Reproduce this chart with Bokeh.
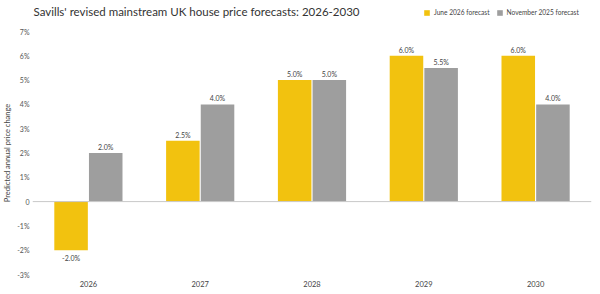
from bokeh.plotting import figure
from bokeh.layouts import column
from bokeh.models import (ColumnDataSource, FactorRange, FixedTicker, Span,
                          Legend, LegendItem, Label)
from bokeh.transform import dodge
from bokeh.core.properties import value
from bokeh.embed import file_html
from bokeh.resources import INLINE

# Forecast data (annual % change)
years = ["2026", "2027", "2028", "2029", "2030"]
june_2026 = [-2.0, 2.5, 5.0, 6.0, 6.0]
november_2025 = [2.0, 4.0, 5.0, 5.5, 4.0]

y_ticks = [-3, -2, -1, 0, 1, 2, 3, 4, 5, 6, 7]
y_tick_labels = ["-3%", "-2%", "-1%", "0", "1%", "2%", "3%", "4%", "5%", "6%", "7%"]

chart_title = "Savills' revised mainstream UK house price forecasts: 2026-2030"
series_names = ["June 2026 forecast", "November 2025 forecast"]

YELLOW = "#F2C20F"
GREY = "#9E9E9E"
FONT = "Lato"
W, HEADER_H, H = 600, 22, 294


def pct(v):
    return f"{v:.1f}%"


src = ColumnDataSource(dict(
    year=years,
    june=june_2026,
    nov=november_2025,
    june_lbl=[pct(v) for v in june_2026],
    nov_lbl=[pct(v) for v in november_2025],
    june_pos=[v if v >= 0 else float("nan") for v in june_2026],
    june_neg=[v if v < 0 else float("nan") for v in june_2026],
    nov_pos=[v if v >= 0 else float("nan") for v in november_2025],
    nov_neg=[v if v < 0 else float("nan") for v in november_2025],
))

# ---- header strip: title and key -------------------------------------------
head = figure(width=W, height=HEADER_H, x_range=(0, W), y_range=(0, HEADER_H),
              x_axis_type=None, y_axis_type=None, output_backend="svg",
              toolbar_location=None, min_border=0,
              min_border_left=0, min_border_right=0,
              min_border_top=0, min_border_bottom=0)
head.outline_line_color = None
head.grid.visible = False
head.add_layout(Label(x=33, y=11, x_units="canvas", y_units="canvas",
                      text=chart_title, text_align="left",
                      text_font=FONT, text_font_size="11.5px",
                      text_color="#333333", text_baseline="middle"))
key_src = ColumnDataSource(dict(x=[float("nan")], top=[float("nan")]))
key_june = head.vbar(x="x", top="top", width=1, source=key_src,
                     fill_color=YELLOW, line_color=None)
key_nov = head.vbar(x="x", top="top", width=1, source=key_src,
                    fill_color=GREY, line_color=None)
legend = Legend(
    items=[LegendItem(label=series_names[0], renderers=[key_june]),
           LegendItem(label=series_names[1], renderers=[key_nov])],
    orientation="horizontal",
    location=(391, 6),
    label_text_font=FONT, label_text_font_size="6.6px", label_text_color="#444444",
    glyph_width=7, glyph_height=7, label_standoff=4, spacing=6,
    padding=0, margin=0, border_line_color=None, background_fill_alpha=0,
    label_height=8, label_width=10,
)
head.add_layout(legend, "center")

# ---- main chart ---------------------------------------------------------------
p = figure(
    width=W, height=H - HEADER_H,
    x_range=FactorRange(*years, range_padding=0),
    y_range=(-3, 7),
    output_backend="svg", toolbar_location=None,
    min_border_left=31, min_border_right=9,
    min_border_top=9, min_border_bottom=20,
)
p.outline_line_color = None
p.xgrid.grid_line_color = None
p.ygrid.grid_line_color = None
p.background_fill_color = "white"
p.border_fill_color = "white"

bw = 0.30
p.vbar(x=dodge("year", -0.155, range=p.x_range), top="june", bottom=0,
       width=bw, source=src, fill_color=YELLOW, line_color=None)
p.vbar(x=dodge("year", 0.155, range=p.x_range), top="nov", bottom=0,
       width=bw, source=src, fill_color=GREY, line_color=None)

p.add_layout(Span(location=0, dimension="width", line_color="#C8C8C8", line_width=1))

# Value labels above positive bars, below negative bars
lbl_kw = dict(text_font_size="7px", text_color="#444444", text_align="center",
              text_font=value(FONT), source=src)
p.text(x=dodge("year", -0.155, range=p.x_range), y="june_pos", text="june_lbl",
       text_baseline="bottom", y_offset=-2, **lbl_kw)
p.text(x=dodge("year", -0.155, range=p.x_range), y="june_neg", text="june_lbl",
       text_baseline="top", y_offset=4, **lbl_kw)
p.text(x=dodge("year", 0.155, range=p.x_range), y="nov_pos", text="nov_lbl",
       text_baseline="bottom", y_offset=-2, **lbl_kw)
p.text(x=dodge("year", 0.155, range=p.x_range), y="nov_neg", text="nov_lbl",
       text_baseline="top", y_offset=4, **lbl_kw)

# Axes
xa = p.xaxis[0]
xa.axis_line_color = None
xa.major_tick_line_color = None
xa.minor_tick_line_color = None
xa.major_tick_in = 0
xa.major_tick_out = 0
xa.major_label_standoff = 6
xa.major_label_text_font = FONT
xa.major_label_text_font_size = "7.5px"
xa.major_label_text_color = "#444444"

ya = p.yaxis[0]
ya.ticker = FixedTicker(ticks=y_ticks)
ya.major_label_overrides = {t: s for t, s in zip(y_ticks, y_tick_labels)}
ya.axis_line_color = None
ya.major_tick_line_color = None
ya.minor_tick_line_color = None
ya.major_tick_in = 0
ya.major_tick_out = 0
ya.major_label_standoff = 3
ya.major_label_text_font = FONT
ya.major_label_text_font_size = "7px"
ya.major_label_text_color = "#555555"
ya.axis_label = "Predicted annual price change"
ya.axis_label_text_font = FONT
ya.axis_label_text_font_size = "7.5px"
ya.axis_label_text_font_style = "normal"
ya.axis_label_text_color = "#444444"
ya.axis_label_standoff = 2

layout = column(head, p, spacing=0)
open("out.html", "w").write(file_html(layout, INLINE))
